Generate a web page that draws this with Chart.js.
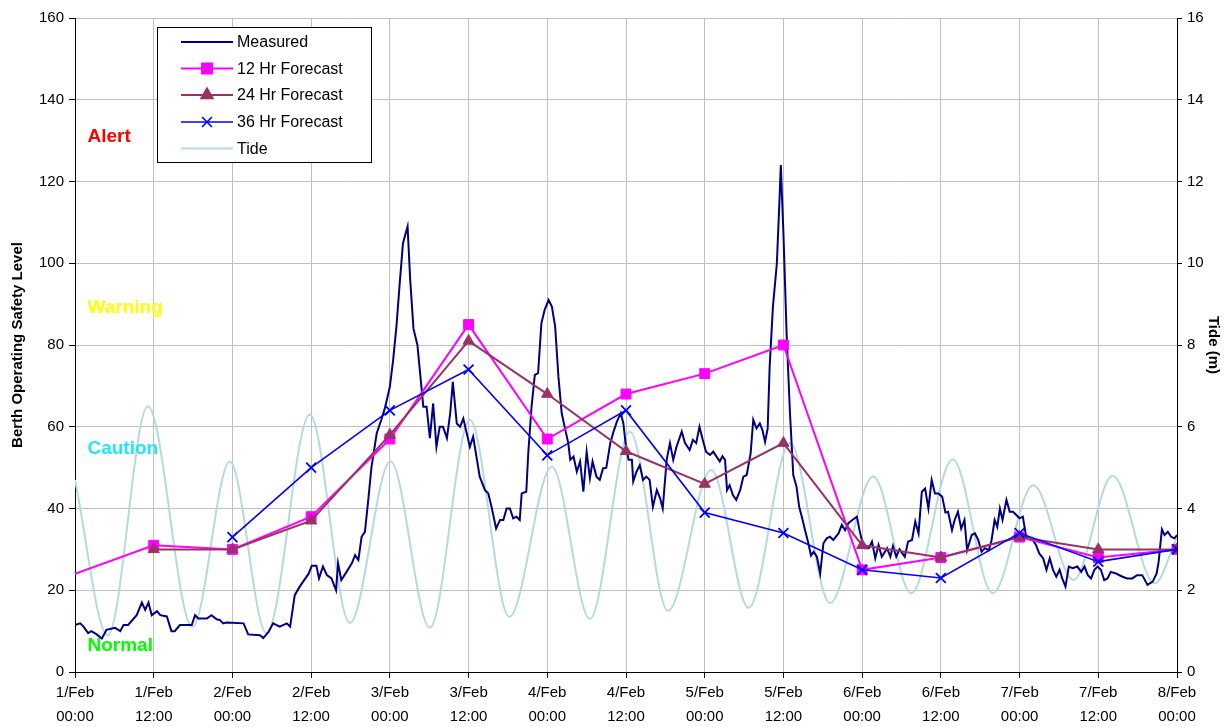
<!DOCTYPE html>
<html lang="en">
<head>
<meta charset="UTF-8">
<title>Berth Operating Safety Level</title>
<script src="https://cdn.jsdelivr.net/npm/chart.js"></script>
<style>
    body { margin: 0; background: #fff; }
    #wrap { width: 1229px; height: 727px; position: relative; }
</style>
</head>
<body>
<div id="wrap"><canvas id="chart"></canvas></div>
<script>
// hours after 1/Feb 00:00
const measuredHours = [0,0.8,1.3,2,2.5,3.3,4.1,4.8,6.1,6.9,7.4,8.1,9.4,10.2,10.7,11.2,11.7,12.5,13,14,14.7,15.2,16,17.8,18.3,18.8,20.1,20.8,21.6,22.1,22.6,23.1,25.7,26.4,28.2,28.7,29.5,30.2,31.2,32.3,32.8,33.5,34.3,35.6,36.1,36.8,37.2,37.8,38.4,39.1,39.8,40.1,40.6,41.4,42.2,42.7,43.2,43.7,44.2,44.7,45.2,46,46.7,47.3,48,48.5,49,49.5,50,50.7,51.1,51.6,52.2,53.1,53.6,54.1,54.6,55.1,55.6,56.1,56.7,57.2,57.6,58.2,58.7,59.2,59.6,60.2,60.7,61.2,61.7,62.5,63,63.5,64.2,64.8,65.3,65.8,66.3,66.8,67.3,67.8,68.1,68.8,69.1,69.6,70.1,70.6,71.1,71.6,72.2,72.7,73.2,73.7,74.2,74.7,75.2,75.5,76,76.5,77,77.5,78,78.5,78.9,79.5,80,80.5,81,81.6,82.1,82.6,83.2,83.6,84,84.4,84.9,85.1,85.6,86.1,86.6,87.1,87.6,88.1,88.7,89.2,89.6,90.2,90.7,91.2,91.7,92.5,93,93.7,94.2,94.7,95.2,95.7,96.2,96.8,97.3,97.8,98.3,98.7,99.1,99.4,99.8,100.3,100.8,101.4,101.9,102.4,103,103.4,103.9,104.4,104.8,105.2,105.6,105.9,106.4,107,107.4,107.6,108,108.5,109,109.5,110,110.4,110.8,111.3,111.8,112.2,112.6,113.1,113.6,114.1,114.6,115.1,115.6,116.4,116.9,117.4,117.9,118.5,119.2,119.6,120,120.4,121,121.5,122,122.5,123,123.8,124.3,124.7,125.2,125.7,126.5,127,127.6,128.1,128.6,129.1,129.6,130.1,130.6,131.1,131.6,132.2,132.7,133.1,133.7,134.1,134.6,135.1,135.6,136,136.7,137.2,137.7,138.2,138.7,139.3,139.7,140.2,140.6,141,141.4,142,142.5,143,143.5,144,144.5,145,145.5,146,146.5,147,147.6,148.1,148.6,149.1,149.6,150.1,150.5,151,151.5,152.1,152.8,153.4,153.9,154.4,154.9,155.4,155.9,156.4,156.9,157.4,157.9,158.7,159.7,160.4,161.2,161.9,162.7,163.5,164.3,164.9,165.2,165.7,166.1,166.6,167.1,167.6,168];
const measuredValues = [11.5,11.9,11.1,9.5,10,9.2,8.2,10.3,10.8,10,11.5,11.5,13.9,17,15.2,17,13.9,14.9,13.9,13.6,10,10,11.5,11.5,13.9,13.1,13.1,13.9,12.9,12.7,11.9,12.1,11.9,9.2,9,8.3,9.8,11.9,11.1,11.9,11.1,18.8,21,24,26,26,22.9,25.8,23.7,22.9,20,26.6,22.5,24.5,26.6,28.6,27.4,33.1,34.3,42,50.2,58.4,61.7,64.9,69.8,76.3,84.5,95,104.9,109,96,84,80,64.9,64.9,57.2,65.7,55.1,60,60,57.2,63.3,71,60.8,60,62,59.2,55.1,57.6,52.7,47.8,44.5,43.7,40.4,35.1,37.2,37.2,40,40,37.6,38,37.2,43.7,44.1,53.5,64.9,72.7,73.1,85.3,88.6,91,89.4,84.5,72.2,63.3,59.6,56,51.9,52.7,49,51.5,44.1,53.9,47.4,51.5,47.8,47,49.8,50,56,58.8,61.2,63.3,60.8,55.1,51.9,51.9,46.6,49,50.6,47,47.8,47,40.4,44.5,42.5,40,51.9,56,51.9,55.1,58.8,56,54.3,56.8,56,60,56.8,53.9,53.1,53.9,52.7,51.5,52.8,51.9,44.5,45.7,43.3,42.1,44.5,47.8,48.2,53.5,61.7,59.6,60.8,59.2,56.3,59.6,74.7,89.4,100,115.5,124,107.3,82,63.3,48.2,45.3,40.4,38,34.7,31.5,28.5,29.4,28.2,24.1,31.5,32.7,33.1,32.3,33.9,36,34.7,36.4,37.2,38,34.7,31.9,30.3,30.3,31.9,27.8,31.1,28.2,30.3,28.2,30.8,28.2,30,28.2,31.9,32.3,36.8,33.9,44.1,44.9,40,47,43.7,43.7,42.9,39,39.2,34.7,37.2,39.2,35.1,37.2,29.8,33.5,33.9,32.3,29.4,30.3,29.8,32,37.2,35.5,40,37.2,42.1,39.2,39.2,38.4,37.6,38,33.1,32.5,32.3,31.1,29,27.8,25,27.8,25,23.3,25,22.9,20.9,25.8,25.4,25.8,24.5,25.8,23.7,22.9,25,25.8,25,22.5,22.9,24.5,24.1,23.3,22.9,22.9,23.7,23.7,21.3,22.1,24.1,27,34.9,33.5,34.3,33.1,32.7,33.5];

const forecastHours = [0,12,24,36,48,60,72,84,96,108,120,132,144,156,168];
const forecast12 = [24,31,30,38,57,85,57,68,73,80,25,28,33,28,30];
const forecast24 = [null,30,30,37,58,81,68,54,46,56,31,28,33,30,30];
const forecast36 = [null,null,33,50,64,74,53,64,39,34,25,23,34,27,30];

// tide highs and lows (m)
const tideHours = [0,5,11.1,17.9,23.6,29.2,35.8,41.9,48.1,54.1,60.2,66.2,72.7,78.5,84.6,90.4,97,102.7,109,115.1,121.7,127.5,133.8,139.9,146.1,152.2,158.2,164.6,168];
const tideValues = [4.7,0.9,6.5,1.1,5.15,0.95,6.3,1.2,5.15,1.08,6.17,1.35,5.02,1.3,5.88,1.5,4.94,1.57,5.6,1.69,4.78,1.93,5.2,1.93,4.57,2.25,4.8,2.17,3.3];

const xTickLabels = [
    ['1/Feb','00:00'],['1/Feb','12:00'],['2/Feb','00:00'],['2/Feb','12:00'],
    ['3/Feb','00:00'],['3/Feb','12:00'],['4/Feb','00:00'],['4/Feb','12:00'],
    ['5/Feb','00:00'],['5/Feb','12:00'],['6/Feb','00:00'],['6/Feb','12:00'],
    ['7/Feb','00:00'],['7/Feb','12:00'],['8/Feb','00:00']
];

const zoneNames = ['Alert','Warning','Caution','Normal'];
const zoneLevels = [131, 89, 54.5, 6.5];
const zoneColors = ['#FF0000','#FFFF00','#1EE6FF','#00FF00'];

const FONT = "'Liberation Sans', Arial, sans-serif";

function pts(xs, ys) {
    return xs.map((x, i) => ({ x: x, y: ys[i] }));
}

const overlay = {
    id: 'overlay',
    afterDraw(chart) {
        const ctx = chart.ctx;
        const x = chart.scales.x, y = chart.scales.y;
        ctx.save();
        // zone labels
        ctx.font = 'bold 19px ' + FONT;
        ctx.textBaseline = 'middle';
        ctx.textAlign = 'left';
        zoneNames.forEach((name, i) => {
            ctx.fillStyle = zoneColors[i];
            ctx.fillText(name, x.getPixelForValue(1.9), y.getPixelForValue(zoneLevels[i]));
        });

        // legend box
        ctx.fillStyle = '#fff';
        ctx.fillRect(157, 27, 214, 135);
        ctx.strokeStyle = '#000';
        ctx.lineWidth = 1;
        ctx.strokeRect(157.5, 27.5, 214, 135);
        const rows = [42, 68.5, 95, 122, 148.5];
        ctx.font = '16px ' + FONT;
        chart.data.datasets.forEach((ds, r) => {
            const ry = rows[r];
            ctx.strokeStyle = ds.borderColor;
            ctx.lineWidth = ds.borderWidth;
            ctx.beginPath();
            ctx.moveTo(181, ry);
            ctx.lineTo(233, ry);
            ctx.stroke();
            if (ds.legendMarker) {
                ctx.fillStyle = ds.pointBackgroundColor;
                ctx.strokeStyle = ds.pointBorderColor;
                Chart.helpers.drawPoint(ctx, {
                    pointStyle: ds.pointStyle,
                    radius: ds.legendMarker,
                    rotation: 0,
                    borderWidth: ds.pointBorderWidth
                }, 207, ry);
            }
            ctx.fillStyle = '#000';
            ctx.fillText(ds.label, 237, ry + 1);
        });
        ctx.restore();
    }
};

new Chart(document.getElementById('chart'), {
    type: 'line',
    data: {
        datasets: [
            {
                label: 'Measured',
                data: pts(measuredHours, measuredValues),
                borderColor: '#000080',
                borderWidth: 2,
                pointRadius: 0,
                tension: 0,
                yAxisID: 'y',
                order: 3
            },
            {
                label: '12 Hr Forecast',
                data: pts(forecastHours, forecast12),
                borderColor: '#FF00FF',
                borderWidth: 2,
                pointStyle: 'rect',
                pointRadius: forecastHours.map((h, i) => i === 0 ? 0 : 7),
                pointBackgroundColor: '#FF00FF',
                pointBorderColor: '#FF00FF',
                pointBorderWidth: 1,
                legendMarker: 7,
                yAxisID: 'y',
                order: 2
            },
            {
                label: '24 Hr Forecast',
                data: pts(forecastHours, forecast24),
                borderColor: '#993366',
                borderWidth: 2,
                pointStyle: 'triangle',
                pointRadius: 6.5,
                pointBackgroundColor: '#993366',
                pointBorderColor: '#993366',
                pointBorderWidth: 1,
                legendMarker: 6.5,
                yAxisID: 'y',
                order: 1
            },
            {
                label: '36 Hr Forecast',
                data: pts(forecastHours, forecast36),
                borderColor: '#0000FF',
                borderWidth: 1.6,
                pointStyle: 'crossRot',
                pointRadius: 7,
                pointBackgroundColor: '#0000FF',
                pointBorderColor: '#0000FF',
                pointBorderWidth: 1.8,
                legendMarker: 7,
                yAxisID: 'y',
                order: 0
            },
            {
                label: 'Tide',
                data: pts(tideHours, tideValues),
                borderColor: '#B4DADD',
                borderWidth: 2,
                pointRadius: 0,
                cubicInterpolationMode: 'monotone',
                yAxisID: 'y1',
                order: 4
            }
        ]
    },
    options: {
        responsive: true,
        maintainAspectRatio: false,
        animation: false,
        layout: { padding: { top: 18, left: 0, right: 0, bottom: 0 } },
        plugins: {
            legend: { display: false },
            tooltip: { enabled: false }
        },
        scales: {
            x: {
                type: 'linear',
                min: 0,
                max: 168,
                afterFit: s => { s.height = 55; },
                afterBuildTicks: s => { s.ticks = forecastHours.map(v => ({ value: v })); },
                ticks: {
                    autoSkip: false,
                    maxRotation: 0,
                    padding: 2,
                    color: '#000',
                    font: { family: FONT, size: 15, lineHeight: 1.65 },
                    callback: (v, i) => xTickLabels[i]
                },
                grid: { color: '#C0C0C0', tickColor: '#000', tickLength: 6 },
                border: { color: '#000', width: 1 }
            },
            y: {
                position: 'left',
                min: 0,
                max: 160,
                afterFit: s => { s.width = 75; },
                ticks: {
                    stepSize: 20,
                    padding: 5,
                    color: '#000',
                    font: { family: FONT, size: 15 }
                },
                grid: { color: '#C0C0C0', tickColor: '#000', tickLength: 6 },
                border: { color: '#000', width: 1 },
                title: {
                    display: true,
                    text: 'Berth Operating Safety Level',
                    color: '#000',
                    font: { family: FONT, size: 15, weight: 'bold' },
                    padding: { top: 9, bottom: 0 }
                }
            },
            y1: {
                position: 'right',
                min: 0,
                max: 16,
                afterFit: s => { s.width = 52; },
                ticks: {
                    stepSize: 2,
                    padding: 5,
                    color: '#000',
                    font: { family: FONT, size: 15 }
                },
                grid: { drawOnChartArea: false, tickColor: '#000', tickLength: 5 },
                border: { color: '#000', width: 1 },
                title: {
                    display: true,
                    text: 'Tide (m)',
                    color: '#000',
                    font: { family: FONT, size: 15, weight: 'bold' },
                    padding: { top: 7, bottom: 0 }
                }
            }
        }
    },
    plugins: [overlay]
});
</script>
</body>
</html>
